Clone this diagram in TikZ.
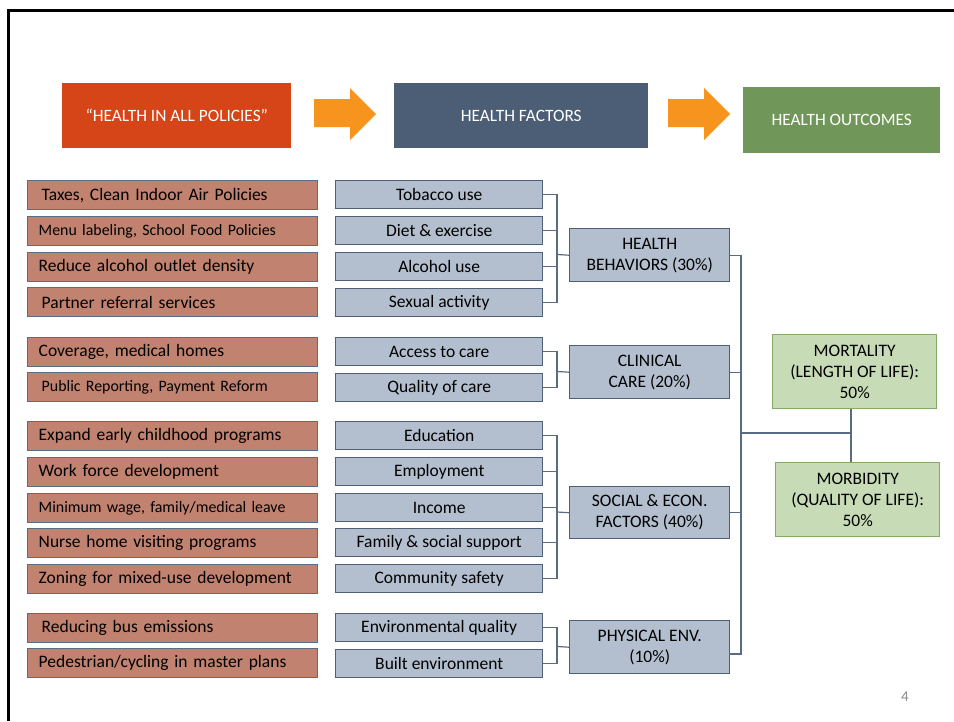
\documentclass[tikz,border=0pt]{standalone}
\usepackage{fontspec}
\setmainfont{Carlito}
\definecolor{headred}{HTML}{D64518}
\definecolor{headslate}{HTML}{4B5E76}
\definecolor{headgreen}{HTML}{70965A}
\definecolor{arroworange}{HTML}{F7941D}
\definecolor{polfill}{HTML}{C1826F}
\definecolor{polline}{HTML}{5D6C82}
\definecolor{facfill}{HTML}{B3BFCE}
\definecolor{facline}{HTML}{4E5F76}
\definecolor{outfill}{HTML}{C7DBB6}
\definecolor{outdraw}{HTML}{84AA65}
\definecolor{connline}{HTML}{5A6C84}
\begin{document}
\begin{tikzpicture}[x=1pt,y=-1pt,
  mainfont/.style={font=\fontsize{17.5}{21}\selectfont},
  smallfont/.style={font=\fontsize{15.9}{19}\selectfont},
  headbox/.style={anchor=north west, inner sep=0pt, text=white,
    font=\fontsize{17.3}{20}\selectfont},
  policy/.style={draw=polline, fill=polfill, line width=1.4pt, anchor=north west,
    minimum height=29pt, inner xsep=11pt, inner ysep=0pt, text width=268pt,
    align=left, mainfont},
  factor/.style={draw=facline, fill=facfill, line width=1.4pt, anchor=north west,
    minimum width=207pt, minimum height=28pt, inner sep=0pt, mainfont},
  group/.style={draw=facline, fill=facfill, line width=1.4pt, anchor=north west,
    minimum width=160pt, minimum height=53pt, inner sep=0pt, align=center, mainfont},
  outcome/.style={draw=outdraw, fill=outfill, line width=1.4pt, anchor=north west,
    minimum width=164pt, minimum height=74pt, inner sep=0pt, align=center,
    font=\fontsize{17.5}{21}\selectfont},
  conn/.style={draw=connline, line width=1.2pt},
  blockarrow/.style={fill=arroworange}
]
\useasboundingbox (0,0) rectangle (954,721);
\fill[white] (0,0) rectangle (954,721);

% slide frame
\draw[line width=2.5pt, black] (8.3,721) -- (8.3,10.3) -- (954,10.3);

% header row
\node[headbox, fill=headred, minimum width=229pt, minimum height=65pt] (hiap) at (62,83) {``HEALTH IN ALL POLICIES''};
\node[headbox, fill=headslate, minimum width=254pt, minimum height=65pt] (hf) at (394,83) {HEALTH FACTORS};
\node[headbox, fill=headgreen, minimum width=197pt, minimum height=66pt] (ho) at (743,87) {HEALTH OUTCOMES};
\fill[blockarrow] (314,99) -- (350,99) -- (350,88) -- (376,114) -- (350,140) -- (350,127) -- (314,127) -- cycle;
\fill[blockarrow] (668,99) -- (704,99) -- (704,88) -- (730,114) -- (704,140) -- (704,127) -- (668,127) -- cycle;

% policies
\node[policy] (p1)  at (27,180) {\hspace{3pt}Taxes, Clean Indoor Air Policies};
\node[policy, smallfont] (p2)  at (27,216) {Menu labeling, School Food Policies};
\node[policy] (p3)  at (27,252) {Reduce alcohol outlet density};
\node[policy] (p4)  at (27,287) {\hspace{3pt}Partner referral services};
\node[policy] (p5)  at (27,337) {Coverage, medical homes};
\node[policy, smallfont] (p6)  at (27,372) {\hspace{3pt}Public Reporting, Payment Reform};
\node[policy] (p7)  at (27,421) {Expand early childhood programs};
\node[policy] (p8)  at (27,457) {Work force development};
\node[policy, smallfont] (p9)  at (27,493) {Minimum wage, family/medical leave};
\node[policy] (p10) at (27,528) {Nurse home visiting programs};
\node[policy] (p11) at (27,564) {Zoning for mixed-use development};
\node[policy] (p12) at (27,613) {\hspace{3pt}Reducing bus emissions};
\node[policy] (p13) at (27,648) {Pedestrian/cycling in master plans};

% health factors
\node[factor] (f1)  at (335,180) {Tobacco use};
\node[factor] (f2)  at (335,216) {Diet \& exercise};
\node[factor] (f3)  at (335,252) {Alcohol use};
\node[factor] (f4)  at (335,288) {Sexual activity};
\node[factor] (f5)  at (335,337) {Access to care};
\node[factor] (f6)  at (335,373) {Quality of care};
\node[factor] (f7)  at (335,421) {Education};
\node[factor] (f8)  at (335,457) {Employment};
\node[factor] (f9)  at (335,493) {Income};
\node[factor] (f10) at (335,528) {Family \& social support};
\node[factor] (f11) at (335,564) {Community safety};
\node[factor] (f12) at (335,613) {Environmental quality};
\node[factor] (f13) at (335,649) {Built environment};

% factor groups
\node[group] (hb) at (569,228) {HEALTH\\BEHAVIORS (30\%)};
\node[group] (cc) at (569,345) {CLINICAL\\CARE (20\%)};
\node[group, minimum height=52pt] (se) at (569,486) {SOCIAL \& ECON.\\FACTORS (40\%)};
\node[group] (pe) at (569,620) {PHYSICAL ENV.\\(10\%)};

% outcomes
\node[outcome] (mort) at (772,334) {MORTALITY\\(LENGTH OF LIFE):\\50\%};
\node[outcome] (morb) at (775,462) {MORBIDITY\\(QUALITY OF LIFE):\\50\%};

% bracket junctions
\coordinate (jhb) at (557,254.5);
\coordinate (jcc) at (557,371.5);
\coordinate (jse) at (557,512);
\coordinate (jpe) at (557,646.5);
\coordinate (jout) at (741,433);
\coordinate (jmid) at (851,433);
\coordinate (peout) at (729,654);

% factors to groups
\foreach \f in {f1,f2,f3,f4} \draw[conn] (\f.east) -| (jhb);
\draw[conn] (jhb) -- (hb.west);
\foreach \f in {f5,f6} \draw[conn] (\f.east) -| (jcc);
\draw[conn] (jcc) -- (cc.west);
\foreach \f in {f7,f8,f9,f10,f11} \draw[conn] (\f.east) -| (jse);
\draw[conn] (jse) -- (se.west);
\foreach \f in {f12,f13} \draw[conn] (\f.east) -| (jpe);
\draw[conn] (jpe) -- (pe.west);

% groups to outcomes
\draw[conn] (hb.east) -| (jout);
\draw[conn] (cc.east) -| (jout);
\draw[conn] (se.east) -| (jout);
\draw[conn] (peout) -| (jout);
\draw[conn] (jout) -- (jmid);
\draw[conn] (mort.south -| jmid) -- (morb.north -| jmid);

% slide number
\node[text=black!45, font=\fontsize{15}{17}\selectfont, inner sep=0pt] (pgnum) at (905,697) {4};
\end{tikzpicture}
\end{document}
